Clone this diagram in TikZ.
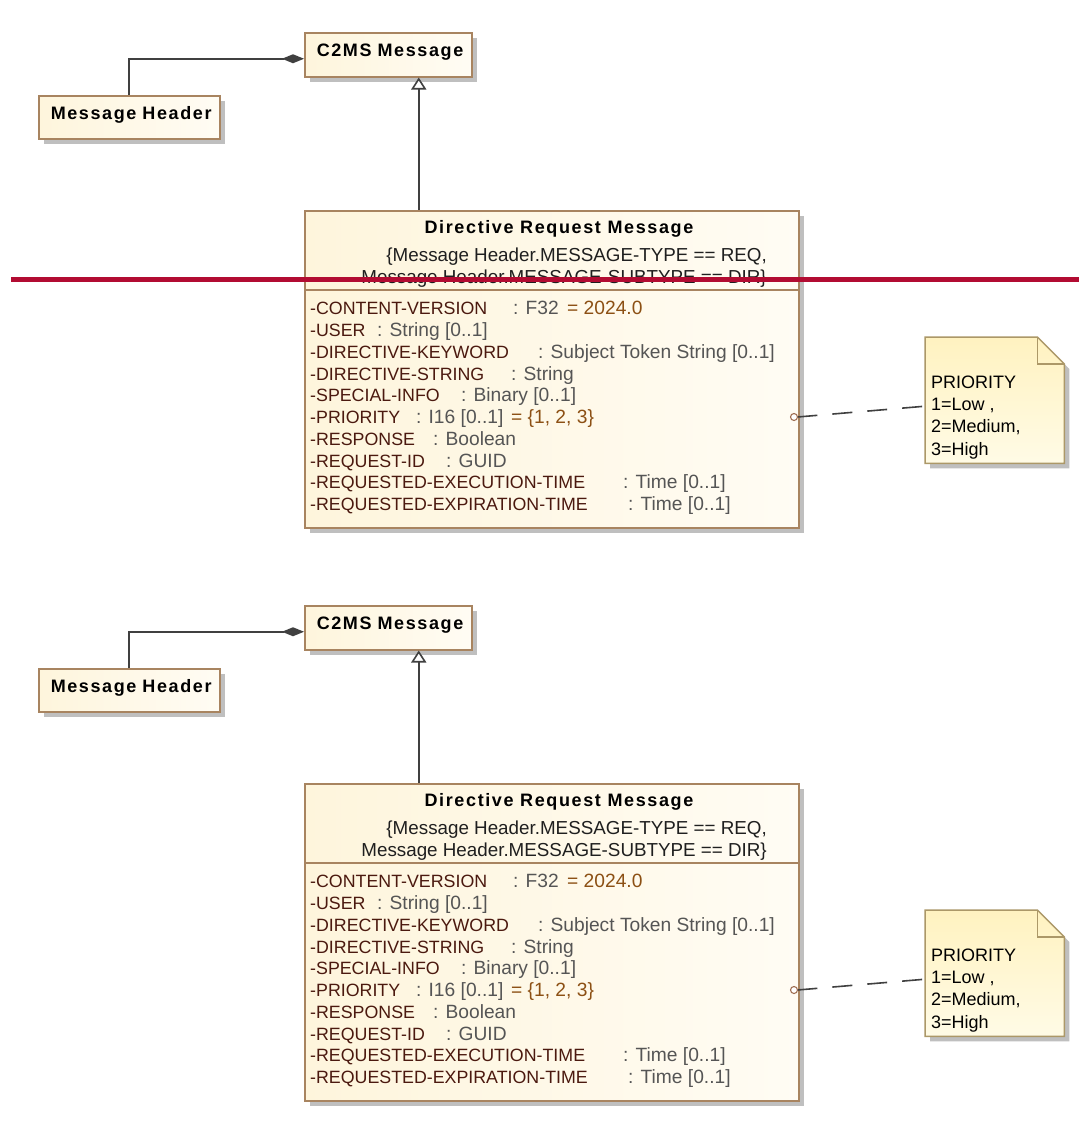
\documentclass[tikz,border=0pt]{standalone}
\usepackage{fontspec}
\setmainfont{Liberation Sans}
\newfontfamily\headfont[LetterSpace=9]{Liberation Sans}
\usetikzlibrary{arrows.meta,shadows,calc}

\definecolor{boxline}{RGB}{168,132,96}
\definecolor{boxfillA}{RGB}{254,245,220}
\definecolor{boxfillB}{RGB}{255,252,244}
\definecolor{notefillA}{RGB}{255,242,192}
\definecolor{notefillB}{RGB}{255,251,230}
\definecolor{noteline}{RGB}{172,152,104}
\definecolor{wire}{RGB}{64,64,64}
\definecolor{pinline}{RGB}{160,112,84}
\definecolor{attrname}{RGB}{75,25,15}
\definecolor{attrtype}{RGB}{85,85,85}
\definecolor{attrval}{RGB}{140,80,20}
\definecolor{cutline}{RGB}{178,12,50}

\newcommand{\plainfont}{\fontsize{18.8}{22}\selectfont}
\newcommand{\attrfont}{\fontsize{17.8}{21.75}\selectfont}
\newcommand{\typefont}{\fontsize{19.2}{21.75}\selectfont}
\newcommand{\notefont}{\fontsize{18}{22.3}\selectfont}
\newcommand{\boldhead}{\headfont\bfseries\fontsize{18}{22}\selectfont}
% one attribute row: name column width, name, type column width, type, default value
\newcommand{\attrrow}[5]{\makebox[#1pt][l]{\color{attrname}#2}\makebox[#3pt][l]{\typefont\color{attrtype}#4}{\typefont\color{attrval}#5}}

\tikzset{
  umlshadow/.style={drop shadow={shadow xshift=5pt, shadow yshift=-5pt, fill=black, opacity=0.25}},
  classbox/.style={rectangle, draw=boxline, line width=1.5pt, left color=boxfillA, right color=boxfillB,
    umlshadow, anchor=north west},
  namedbox/.style={classbox, inner xsep=12pt, inner ysep=0pt, align=left,
    text height=13pt, text depth=9pt, font=\boldhead},
  wireline/.style={draw=wire, line width=1.6pt},
  composition/.style={wireline, -{Diamond[length=22pt, width=9pt, fill=wire]}},
  generalization/.style={wireline, -{Triangle[length=12pt, width=15pt, fill=white]}},
  noteconn/.style={wireline, dash pattern=on 20pt off 15pt},
  compartment/.style={draw=boxline, line width=1.5pt},
  textblock/.style={inner sep=0pt}
}

\begin{document}
\begin{tikzpicture}[x=1pt, y=-1pt]
  \fill[white] (0,0) rectangle (1079,1125);
  \useasboundingbox (0,0) rectangle (1079,1125);

  \foreach \cp/\dy in {a/0, b/573} {
    \begin{scope}[yshift=-\dy pt]
      % classes
      \node[namedbox, text width=143pt, minimum height=44pt] (\cp c2ms) at (304,32) {\mbox{C2MS Message}};
      \node[namedbox, text width=157pt, minimum height=43pt] (\cp hdr) at (38,95) {\mbox{Message Header}};
      \node[classbox, minimum width=494pt, minimum height=317pt, inner sep=0pt] (\cp drm) at (304,210) {};
      \draw[compartment] (\cp drm.west |- 0,290) -- (\cp drm.east |- 0,290);

      \node[textblock, font=\boldhead, anchor=base] (\cp title) at (559,233.5) {Directive Request Message};
      \node[textblock, font=\plainfont, align=right, anchor=north east, text=black!88] (\cp cons) at (767,247.2)
        {\{Message Header.MESSAGE-TYPE == REQ,\\Message Header.MESSAGE-SUBTYPE == DIR\}};

      \node[textblock, font=\attrfont, align=left, anchor=north west] (\cp attrs) at (310,301.2) {%
        \attrrow{203}{-CONTENT-VERSION}{54}{: F32}{= 2024.0}\\
        \attrrow{67}{-USER}{0}{: String [0..1]}{}\\
        \attrrow{228}{-DIRECTIVE-KEYWORD}{0}{: Subject Token String [0..1]}{}\\
        \attrrow{201}{-DIRECTIVE-STRING}{0}{: String}{}\\
        \attrrow{151}{-SPECIAL-INFO}{0}{: Binary [0..1]}{}\\
        \attrrow{106}{-PRIORITY}{95}{: I16 [0..1]}{= \{1, 2, 3\}}\\
        \attrrow{123}{-RESPONSE}{0}{: Boolean}{}\\
        \attrrow{136}{-REQUEST-ID}{0}{: GUID}{}\\
        \attrrow{313}{-REQUESTED-EXECUTION-TIME}{0}{: Time [0..1]}{}\\
        \attrrow{318}{-REQUESTED-EXPIRATION-TIME}{0}{: Time [0..1]}{}};

      % note with folded corner
      \node[inner sep=0pt, minimum width=139pt, minimum height=126pt, anchor=north west] (\cp note) at (925,337) {};
      \path[umlshadow, draw=noteline, line width=1.5pt, top color=notefillA, bottom color=notefillB]
        (\cp note.north west) -- ([xshift=-27pt]\cp note.north east) -- ([yshift=-27pt]\cp note.north east)
        -- (\cp note.south east) -- (\cp note.south west) -- cycle;
      \draw[draw=noteline, line width=1.5pt] ([xshift=-27pt]\cp note.north east) |- ([yshift=-27pt]\cp note.north east);
      \node[textblock, font=\notefont, align=left, anchor=north west] (\cp notetext) at (931,375.6)
        {PRIORITY\\1=Low ,\\2=Medium,\\3=High};

      % relationships
      \draw[composition] (\cp hdr.north) |- ([yshift=-4pt]\cp c2ms.west);
      \coordinate (\cp gx) at ([xshift=30.5pt]\cp c2ms.south);
      \draw[generalization] (\cp drm.north -| \cp gx) -- (\cp gx);
      \coordinate (\cp pin) at (794,417);
      \draw[noteconn] ([xshift=3.5pt]\cp pin) -- ([yshift=-6pt]\cp note.west);
      \draw[draw=pinline, line width=1.1pt, fill=white] (\cp pin) circle (3.5pt);
    \end{scope}
  }

  % horizontal cut mark across the upper diagram
  \coordinate (cutL) at (11,279.5);
  \coordinate (cutR) at (1079,279.5);
  \draw[cutline, line width=5pt] (cutL) -- (cutR);
\end{tikzpicture}
\end{document}
